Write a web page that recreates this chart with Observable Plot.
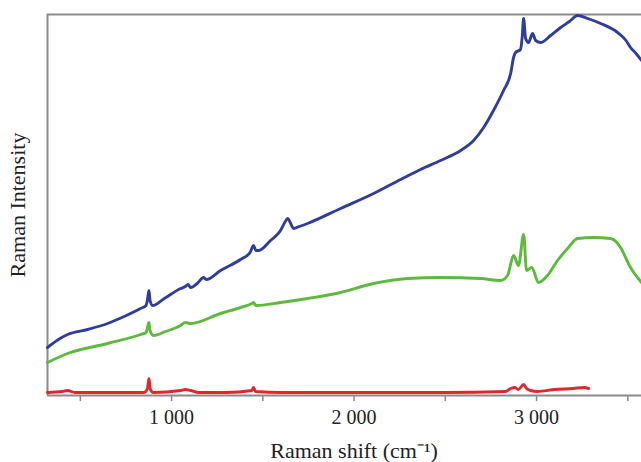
<!DOCTYPE html>
<html>
<head>
<meta charset="utf-8">
<script src="https://cdn.jsdelivr.net/npm/d3@7"></script>
<script src="https://cdn.jsdelivr.net/npm/@observablehq/plot@0.6"></script>
<style>
  html, body { margin: 0; padding: 0; background: #fff; overflow: hidden; }
  svg { display: block; }
</style>
</head>
<body>
<div id="chart"></div>
<script>
// Raman shift (cm^-1) and intensity (arbitrary units)
const blueShift = [320,380,430,540,649,740,830,860,868,876,882,895,960,1049,1075,1090,1104,1140,1175,1190,1268,1378,1430,1449,1462,1477,1542,1597,1620,1636,1650,1668,1700,1745,1926,2107,2255,2364,2474,2584,2655,2710,2764,2819,2858,2874,2885,2912,2922,2929,2940,2956,2978,2995,3022,3077,3132,3180,3225,3280,3351,3444,3490,3515,3545,3575];
const blueIntensity = [48,56,61,66,72,79,87,90,96,105,95,90,97,107,109,111,108,112,118,116,125,136,143,150,145,145,155,165,173,177,173,167,169,172,187,202,216,226,235,245,255,268,285,305,322,338,343,346,360,377,357,353,362,355,353,360,368,374,380,377,372,363,355,348,342,335];

const greenShift = [320,430,649,830,860,872,876,882,901,967,1049,1075,1104,1268,1378,1440,1449,1462,1597,1745,1926,2107,2293,2474,2693,2803,2841,2874,2901,2929,2945,2973,3011,3060,3115,3170,3225,3312,3405,3440,3460,3515,3575];
const greenIntensity = [33,42,52,61,63,71,73,65,60,64,70,73,72,82,88,92,93,90,93,97,103,112,117,118,117,115,120,140,130,161,125,128,113,120,135,147,157,158,157,153,148,128,113];

const redShift = [320,400,430,470,700,850,868,876,884,900,1049,1075,1104,1150,1300,1440,1449,1460,1600,2000,2500,2830,2858,2880,2900,2929,2945,2967,3005,3100,3200,3260,3285];
const redIntensity = [3,4,5,3,3,3,7,17,6,3,5,6,5,3,3,5,8,4,3,3,3,4,7,8,6,11,7,5,4,6,7,8,7];

const xTicks = [500,1000,1500,2000,2500,3000,3500];
const xLabeled = [1000,2000,3000];
const xTitle = "Raman shift (cm⁻¹)";
const yTitle = "Raman Intensity";

const toRows = (xs, ys) => xs.map((x, i) => ({x, y: ys[i]}));
const blue = toRows(blueShift, blueIntensity);
const green = toRows(greenShift, greenIntensity);
const red = toRows(redShift, redIntensity);

const xMin = 320, xMax = 3575, yMax = 381;
const fmt = d => xLabeled.includes(d) ? d3.format(",")(d).replace(",", " ") : "";

const chart = Plot.plot({
  width: 641,
  height: 462,
  marginLeft: 47,
  marginRight: 0,
  marginTop: 14,
  marginBottom: 67,
  style: {fontFamily: "'Liberation Serif', 'Times New Roman', serif", color: "#222", background: "#fff"},
  x: {domain: [xMin, xMax]},
  y: {domain: [0, yMax], axis: null},
  marks: [
    Plot.axisX({ticks: xTicks, tickFormat: fmt, tickSize: 6, tickPadding: 8, fontSize: 20, stroke: "#888", strokeWidth: 1.5, label: null}),
    Plot.ruleY([0, yMax], {stroke: "#8a8a8a", strokeWidth: 2}),
    Plot.ruleX([xMin], {stroke: "#8a8a8a", strokeWidth: 2}),
    Plot.line(red, {x: "x", y: "y", stroke: "#e3262b", strokeWidth: 2.9, curve: "monotone-x"}),
    Plot.line(green, {x: "x", y: "y", stroke: "#5cba3c", strokeWidth: 2.9, curve: "monotone-x"}),
    Plot.line(blue, {x: "x", y: "y", stroke: "#2f3d9c", strokeWidth: 2.9, curve: "monotone-x"}),
    Plot.text([xTitle], {x: 2000, frameAnchor: "bottom", lineAnchor: "bottom", dy: 62, fontSize: 22, fill: "#222"}),
    Plot.text([yTitle], {frameAnchor: "left", textAnchor: "middle", rotate: -90, dx: -30, fontSize: 22, fill: "#222"})
  ]
});
document.getElementById("chart").appendChild(chart);
</script>
</body>
</html>
